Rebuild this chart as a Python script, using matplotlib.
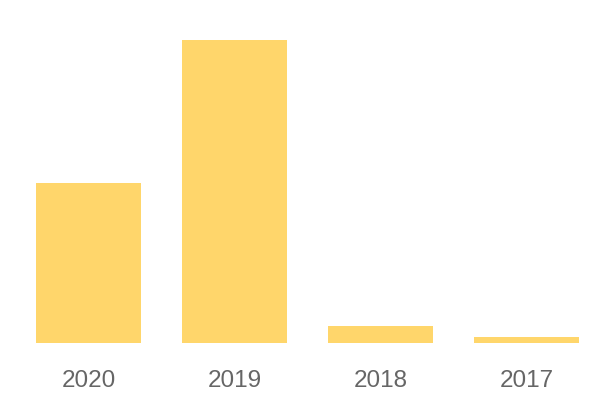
import matplotlib
matplotlib.use("Agg")
import matplotlib.pyplot as plt

categories = ["2020", "2019", "2018", "2017"]
values = [160, 303, 17, 6]

bar_color = "#FFD66B"
label_color = "#666666"

fig = plt.figure(figsize=(6, 4), dpi=100)
ax = fig.add_axes([15.5 / 600, 57 / 400, 584 / 600, 303 / 400])
x = range(len(categories))
ax.bar(x, values, width=0.72, color=bar_color)
ax.set_xlim(-0.5, len(categories) - 0.5)
ax.set_ylim(0, max(values))
ax.set_xticks(list(x))
ax.set_xticklabels(categories, fontsize=17.5, color=label_color, family="Liberation Sans")
ax.tick_params(axis="x", length=0, pad=19.5)
ax.set_yticks([])
for s in ax.spines.values():
    s.set_visible(False)
fig.savefig("out.png", dpi=100)
